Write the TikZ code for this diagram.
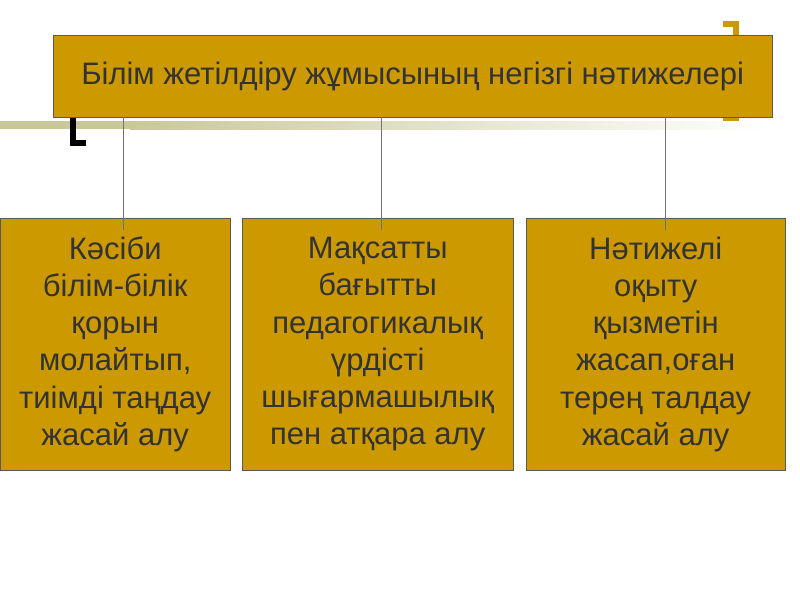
\documentclass[tikz,border=0pt]{standalone}
\usepackage{fontspec}
\setmainfont{Liberation Sans}
\definecolor{gold}{HTML}{CC9900}
\definecolor{band}{HTML}{C8C89A}
\definecolor{ink}{HTML}{333333}
\begin{document}
\begin{tikzpicture}[x=1pt,y=-1pt,
        box/.style={draw=black!65,fill=gold,text=ink,anchor=north west,inner sep=0pt,align=center,
            font=\fontsize{31}{37.2}\selectfont},
        link/.style={draw=black!55,line width=0.8pt}]
        \useasboundingbox (0,0) rectangle (800,600);
        \fill[white] (0,0) rectangle (800,600);
        % stripe and corner marks
        \fill[band] (0,121) rectangle (130,129);
        \shade[left color=band,right color=white] (130,121) rectangle (770,129);
        \draw[gold,line width=6pt] (723,24) -- (736,24) -- (736,118) -- (723,118);
        \fill[black] (70,117) rectangle (76,146);
        \fill[black] (70,140) rectangle (86,146);
        % boxes
        \node[box,minimum width=719pt,minimum height=82pt] (head) at (53,35) {Білім жетілдіру жұмысының негізгі нәтижелері};
        \node[box,minimum width=230pt,minimum height=252pt] (prof) at (0,218) {Кәсіби\\білім-білік\\қорын\\молайтып,\\тиімді таңдау\\жасай алу};
        \node[box,minimum width=271pt,minimum height=252pt] (proc) at (242,218) {Мақсатты\\бағытты\\педагогикалық\\үрдісті\\шығармашылық\\пен атқара алу};
        \node[box,minimum width=259pt,minimum height=252pt] (act) at (526,218) {Нәтижелі\\оқыту\\қызметін\\жасап,оған\\терең талдау\\жасай алу};
        % connectors
        \coordinate (k1) at (123,230);
        \coordinate (k2) at (381,230);
        \coordinate (k3) at (665,230);
        \draw[link] (head.south -| k1) -- (k1);
        \draw[link] (head.south -| k2) -- (k2);
        \draw[link] (head.south -| k3) -- (k3);
    \end{tikzpicture}
\end{document}
